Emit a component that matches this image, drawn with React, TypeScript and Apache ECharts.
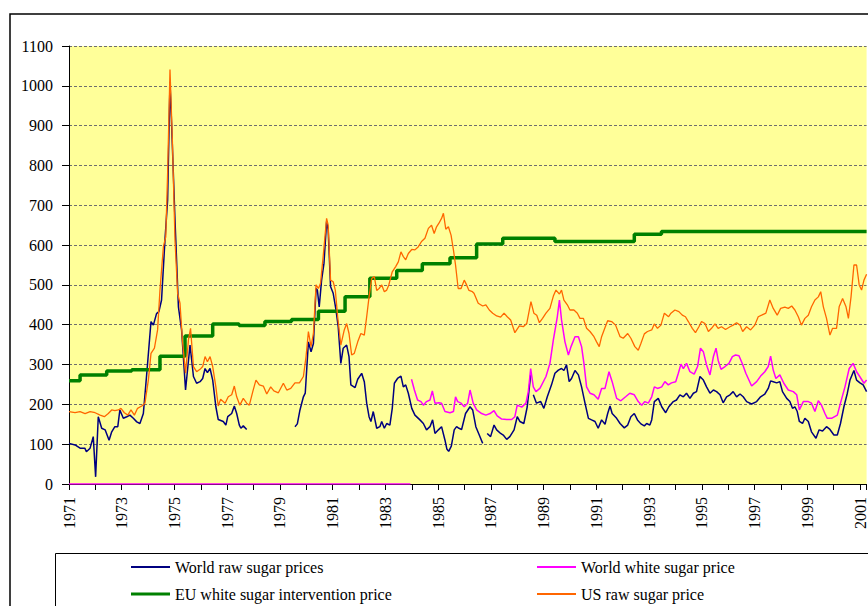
import { useEffect, useRef } from 'react';
import * as echarts from 'echarts';

type Pt = [number, number | null];

const FONT = "'Liberation Serif', 'Times New Roman', serif";

const X_MIN = 1971;
const X_MAX = 2001.25;
const Y_MAX = 1100;
const Y_STEP = 100;

const worldRaw: Pt[] = [
  [1971.0, 102], [1971.23, 98], [1971.42, 90], [1971.6, 90], [1971.66, 81], [1971.8, 90], [1971.92, 119], [1972.01, 18],
  [1972.11, 169], [1972.24, 140], [1972.37, 136], [1972.52, 110], [1972.62, 131], [1972.74, 144], [1972.85, 144], [1972.93, 186],
  [1973.06, 165], [1973.19, 169], [1973.31, 173], [1973.44, 165], [1973.57, 156], [1973.69, 152], [1973.82, 177], [1973.95, 278],
  [1974.11, 408], [1974.2, 399], [1974.32, 428], [1974.41, 433], [1974.51, 462], [1974.64, 613], [1974.74, 713], [1974.83, 1010],
  [1974.89, 906], [1975.02, 663], [1975.15, 445], [1975.27, 387], [1975.42, 236], [1975.59, 349], [1975.72, 270], [1975.84, 253],
  [1975.97, 257], [1976.07, 265], [1976.16, 290], [1976.25, 280], [1976.35, 290], [1976.45, 261], [1976.57, 194], [1976.66, 162],
  [1976.85, 157], [1976.95, 148], [1977.02, 169], [1977.17, 177], [1977.27, 196], [1977.36, 177], [1977.46, 148], [1977.52, 140],
  [1977.61, 146], [1977.74, 137], [1977.8, null],
  [1979.57, 144], [1979.66, 151], [1979.76, 186], [1979.89, 219], [1979.96, 228], [1980.08, 357], [1980.18, 332], [1980.27, 353],
  [1980.37, 491], [1980.42, 487], [1980.49, 445], [1980.58, 512], [1980.67, 554], [1980.77, 659], [1980.83, 638], [1980.92, 496],
  [1981.02, 479], [1981.12, 440], [1981.21, 395], [1981.31, 303], [1981.4, 341], [1981.53, 349], [1981.62, 320], [1981.69, 249],
  [1981.85, 242], [1981.95, 263], [1982.1, 278], [1982.2, 257], [1982.29, 203], [1982.38, 169], [1982.45, 157], [1982.54, 182],
  [1982.67, 140], [1982.79, 144], [1982.86, 157], [1982.96, 140], [1983.05, 152], [1983.17, 148], [1983.26, 190], [1983.34, 253],
  [1983.46, 265], [1983.59, 271], [1983.68, 244], [1983.77, 249], [1983.87, 228], [1984.0, 190], [1984.12, 173], [1984.31, 161],
  [1984.44, 152], [1984.56, 136], [1984.69, 144], [1984.79, 161], [1984.88, 127], [1985.01, 136], [1985.13, 144], [1985.26, 110],
  [1985.33, 88], [1985.4, 82], [1985.5, 95], [1985.61, 136], [1985.7, 144], [1985.79, 140], [1985.89, 137], [1986.04, 177],
  [1986.21, 194], [1986.31, 186], [1986.43, 144], [1986.56, 123], [1986.69, 102], [1986.75, null],
  [1986.86, 127], [1986.99, 119], [1987.12, 148], [1987.22, 136], [1987.37, 127], [1987.47, 123], [1987.6, 112], [1987.72, 119],
  [1987.88, 136], [1988.0, 169], [1988.1, 157], [1988.25, 152], [1988.38, 194], [1988.51, 274], [1988.56, null],
  [1988.61, 224], [1988.73, 203], [1988.89, 207], [1989.01, 190], [1989.14, 219], [1989.3, 249], [1989.43, 278], [1989.56, 286],
  [1989.68, 290], [1989.77, 285], [1989.87, 299], [1989.97, 257], [1990.06, 265], [1990.19, 285], [1990.32, 274], [1990.44, 244],
  [1990.57, 203], [1990.7, 165], [1990.82, 161], [1990.95, 157], [1991.07, 140], [1991.2, 161], [1991.33, 150], [1991.43, 177],
  [1991.52, 196], [1991.6, 177], [1991.77, 165], [1991.9, 152], [1992.06, 141], [1992.19, 148], [1992.31, 169], [1992.44, 177],
  [1992.56, 161], [1992.69, 151], [1992.82, 146], [1992.91, 152], [1993.03, 148], [1993.1, 161], [1993.2, 207], [1993.35, 215],
  [1993.48, 194], [1993.63, 179], [1993.75, 194], [1993.92, 207], [1994.04, 211], [1994.17, 224], [1994.3, 219], [1994.42, 228],
  [1994.55, 215], [1994.68, 228], [1994.8, 232], [1994.93, 270], [1995.06, 261], [1995.18, 244], [1995.31, 228], [1995.44, 236],
  [1995.56, 232], [1995.69, 224], [1995.81, 204], [1995.94, 219], [1996.07, 224], [1996.19, 232], [1996.32, 219], [1996.45, 226],
  [1996.57, 219], [1996.7, 207], [1996.89, 201], [1997.08, 207], [1997.23, 219], [1997.39, 226], [1997.52, 240], [1997.61, 259],
  [1997.71, 257], [1997.84, 254], [1997.96, 257], [1998.06, 232], [1998.22, 215], [1998.34, 207], [1998.44, 190], [1998.53, 194],
  [1998.62, 182], [1998.7, 157], [1998.82, 152], [1998.91, 165], [1999.04, 157], [1999.16, 131], [1999.33, 115], [1999.45, 136],
  [1999.58, 133], [1999.73, 144], [1999.86, 137], [2000.01, 123], [2000.14, 123], [2000.26, 152], [2000.39, 194], [2000.52, 228],
  [2000.62, 261], [2000.77, 285], [2000.87, 261], [2001.0, 254], [2001.12, 249], [2001.25, 232],
];

const worldWhite: Pt[] = [
  [1971.0, 0], [1983.95, 0], [1983.97, null],
  [1983.99, 263], [1984.1, 236], [1984.22, 211], [1984.35, 207], [1984.44, 198], [1984.56, 207], [1984.69, 211], [1984.78, 234],
  [1984.88, 203], [1985.03, 204], [1985.13, 203], [1985.26, 182], [1985.45, 179], [1985.58, 182], [1985.66, 219], [1985.74, 207],
  [1985.87, 203], [1985.99, 194], [1986.12, 203], [1986.21, 236], [1986.33, 203], [1986.46, 186], [1986.65, 177], [1986.81, 173],
  [1986.97, 177], [1987.12, 184], [1987.24, 171], [1987.41, 163], [1987.6, 162], [1987.79, 162], [1987.91, 169], [1988.0, 198],
  [1988.17, 193], [1988.33, 203], [1988.42, 232], [1988.51, 290], [1988.61, 244], [1988.71, 232], [1988.86, 240], [1988.96, 253],
  [1989.09, 270], [1989.24, 303], [1989.37, 362], [1989.52, 420], [1989.6, 462], [1989.68, 412], [1989.81, 357], [1989.94, 324],
  [1990.04, 345], [1990.19, 370], [1990.32, 370], [1990.44, 345], [1990.53, 303], [1990.63, 244], [1990.76, 228], [1990.91, 224],
  [1991.07, 213], [1991.2, 240], [1991.33, 240], [1991.48, 282], [1991.6, 257], [1991.77, 215], [1991.93, 209], [1992.11, 219],
  [1992.27, 228], [1992.44, 224], [1992.59, 207], [1992.72, 198], [1992.84, 207], [1992.97, 203], [1993.1, 219], [1993.2, 244],
  [1993.32, 240], [1993.48, 244], [1993.6, 257], [1993.73, 249], [1993.85, 254], [1994.01, 257], [1994.11, 278], [1994.21, 301],
  [1994.3, 290], [1994.42, 303], [1994.55, 282], [1994.71, 276], [1994.84, 295], [1994.95, 341], [1995.06, 332], [1995.18, 299],
  [1995.31, 274], [1995.44, 320], [1995.54, 341], [1995.62, 311], [1995.73, 288], [1995.88, 295], [1996.03, 303], [1996.16, 320],
  [1996.28, 324], [1996.41, 322], [1996.55, 300], [1996.67, 278], [1996.89, 246], [1997.08, 257], [1997.23, 271], [1997.39, 282],
  [1997.52, 295], [1997.61, 321], [1997.71, 286], [1997.81, 265], [1997.96, 274], [1998.11, 253], [1998.28, 236], [1998.47, 232],
  [1998.6, 224], [1998.7, 186], [1998.85, 207], [1999.04, 207], [1999.16, 203], [1999.29, 182], [1999.42, 209], [1999.54, 198],
  [1999.67, 177], [1999.76, 165], [1999.92, 165], [2000.14, 173], [2000.26, 203], [2000.43, 244], [2000.59, 290], [2000.74, 303],
  [2000.87, 282], [2000.99, 270], [2001.15, 253], [2001.25, 261],
];

// EU intervention price: value in force from each date onwards
const euSteps: Pt[] = [
  [1971.0, 259], [1971.42, 274], [1972.43, 284], [1973.38, 287], [1974.45, 321], [1975.4, 372], [1976.45, 402],
  [1977.45, 398], [1978.43, 408], [1979.44, 413], [1980.46, 434], [1981.47, 470], [1982.41, 517], [1983.43, 536],
  [1984.4, 553], [1985.45, 568], [1986.46, 603], [1987.45, 617], [1989.43, 609], [1992.44, 627], [1993.47, 634],
  [2001.25, 634],
];

const usRaw: Pt[] = [
  [1971.0, 182], [1971.23, 179], [1971.42, 182], [1971.61, 177], [1971.8, 182], [1971.99, 179], [1972.18, 173], [1972.34, 169],
  [1972.49, 177], [1972.62, 186], [1972.74, 184], [1972.87, 186], [1972.97, 190], [1973.1, 179], [1973.23, 173], [1973.35, 186],
  [1973.48, 173], [1973.6, 190], [1973.76, 196], [1973.88, 203], [1974.01, 261], [1974.11, 328], [1974.24, 341], [1974.36, 387],
  [1974.45, 487], [1974.58, 596], [1974.67, 621], [1974.74, 780], [1974.83, 1041], [1974.92, 864], [1975.02, 613], [1975.12, 479],
  [1975.21, 454], [1975.3, 362], [1975.42, 278], [1975.53, 362], [1975.61, 391], [1975.72, 295], [1975.84, 282], [1975.97, 288],
  [1976.07, 295], [1976.16, 320], [1976.25, 307], [1976.35, 320], [1976.45, 295], [1976.57, 244], [1976.66, 196], [1976.75, 213],
  [1976.92, 203], [1977.04, 219], [1977.17, 224], [1977.27, 246], [1977.36, 219], [1977.48, 198], [1977.61, 215], [1977.74, 203],
  [1977.84, 198], [1977.97, 232], [1978.09, 261], [1978.22, 249], [1978.37, 246], [1978.5, 226], [1978.65, 244], [1978.77, 234],
  [1978.94, 229], [1979.13, 253], [1979.26, 236], [1979.41, 240], [1979.57, 254], [1979.74, 254], [1979.89, 270], [1979.99, 320],
  [1980.08, 383], [1980.18, 345], [1980.27, 378], [1980.37, 500], [1980.46, 491], [1980.54, 504], [1980.65, 579], [1980.77, 667],
  [1980.83, 650], [1980.92, 512], [1981.02, 508], [1981.1, 487], [1981.19, 420], [1981.31, 349], [1981.44, 387], [1981.53, 403],
  [1981.62, 378], [1981.72, 324], [1981.82, 328], [1981.95, 357], [1982.07, 378], [1982.2, 374], [1982.29, 420], [1982.38, 470],
  [1982.48, 516], [1982.58, 521], [1982.67, 486], [1982.76, 491], [1982.86, 500], [1982.96, 483], [1983.05, 487], [1983.13, 500],
  [1983.26, 533], [1983.39, 546], [1983.49, 558], [1983.59, 583], [1983.68, 571], [1983.77, 563], [1983.87, 579], [1984.0, 589],
  [1984.12, 588], [1984.25, 596], [1984.37, 609], [1984.5, 617], [1984.63, 642], [1984.75, 650], [1984.85, 629], [1984.94, 646],
  [1985.03, 655], [1985.13, 667], [1985.2, 680], [1985.29, 640], [1985.39, 646], [1985.49, 625], [1985.58, 588], [1985.66, 550],
  [1985.76, 491], [1985.87, 491], [1985.99, 512], [1986.08, 500], [1986.17, 486], [1986.3, 483], [1986.36, 479], [1986.52, 454],
  [1986.69, 447], [1986.81, 450], [1986.94, 437], [1987.07, 429], [1987.22, 422], [1987.37, 419], [1987.5, 429], [1987.62, 420],
  [1987.75, 412], [1987.91, 380], [1988.08, 397], [1988.23, 395], [1988.36, 403], [1988.46, 437], [1988.52, 458], [1988.63, 429],
  [1988.74, 424], [1988.84, 405], [1988.96, 416], [1989.09, 429], [1989.24, 441], [1989.37, 472], [1989.47, 487], [1989.6, 477],
  [1989.68, 487], [1989.77, 462], [1989.9, 450], [1990.0, 437], [1990.15, 437], [1990.28, 429], [1990.38, 416], [1990.51, 416],
  [1990.63, 391], [1990.76, 383], [1990.91, 370], [1991.01, 357], [1991.11, 345], [1991.2, 370], [1991.33, 393], [1991.43, 410],
  [1991.58, 408], [1991.73, 399], [1991.9, 370], [1992.02, 366], [1992.19, 378], [1992.31, 366], [1992.46, 345], [1992.59, 336],
  [1992.69, 353], [1992.82, 377], [1992.94, 383], [1993.1, 387], [1993.2, 402], [1993.32, 391], [1993.45, 399], [1993.58, 429],
  [1993.74, 420], [1993.83, 429], [1993.98, 437], [1994.13, 433], [1994.26, 424], [1994.38, 420], [1994.49, 408], [1994.64, 391],
  [1994.76, 380], [1994.89, 395], [1994.99, 408], [1995.12, 403], [1995.25, 383], [1995.37, 391], [1995.5, 402], [1995.62, 391],
  [1995.75, 395], [1995.9, 388], [1996.07, 395], [1996.19, 399], [1996.32, 405], [1996.45, 399], [1996.55, 383], [1996.7, 395],
  [1996.85, 387], [1997.01, 399], [1997.14, 420], [1997.27, 424], [1997.43, 429], [1997.58, 462], [1997.71, 441], [1997.86, 424],
  [1997.99, 441], [1998.15, 444], [1998.28, 441], [1998.41, 447], [1998.53, 437], [1998.66, 420], [1998.78, 399], [1998.91, 416],
  [1999.04, 424], [1999.16, 445], [1999.29, 462], [1999.42, 470], [1999.51, 483], [1999.61, 445], [1999.73, 416], [1999.86, 374],
  [1999.96, 391], [2000.11, 391], [2000.21, 445], [2000.34, 466], [2000.47, 445], [2000.56, 416], [2000.66, 470], [2000.77, 550],
  [2000.87, 550], [2000.97, 500], [2001.06, 487], [2001.15, 512], [2001.25, 527],
];

const SERIES_NAMES = [
  'World raw sugar prices',
  'World white sugar price',
  'EU white sugar intervention price',
  'US raw sugar price',
];

const toData = (pts: Pt[]) => pts.map(([x, y]) => [x, y === null ? '-' : y]);

export default function App() {
  const ref = useRef<HTMLDivElement>(null);

  useEffect(() => {
    if (!ref.current) return;
    const chart = echarts.init(ref.current, undefined, { renderer: 'svg' });

    const legendBase = {
      orient: 'horizontal',
      padding: 0,
      itemWidth: 39,
      itemHeight: 2,
      icon: 'rect',
      selectedMode: false,
      textStyle: { fontFamily: FONT, fontSize: 16, color: '#000' },
    };

    chart.setOption({
      animation: false,
      backgroundColor: '#ffffff',
      textStyle: { fontFamily: FONT },
      grid: {
        left: 69,
        top: 46,
        right: 1,
        bottom: 122,
        show: true,
        backgroundColor: '#FFFF99',
        borderWidth: 0,
      },
      xAxis: {
        type: 'value',
        min: X_MIN,
        max: X_MAX,
        interval: 1,
        axisLine: { show: true, onZero: false, lineStyle: { color: '#000', width: 1 } },
        axisTick: { show: true, length: 6, lineStyle: { color: '#000' } },
        axisLabel: {
          rotate: 90,
          margin: 13,
          fontFamily: FONT,
          fontSize: 16,
          color: '#000',
          formatter: (v: number) =>
            Number.isInteger(v) && (v - X_MIN) % 2 === 0 ? String(v) : '',
        },
        splitLine: { show: false },
      },
      yAxis: {
        type: 'value',
        min: 0,
        max: Y_MAX,
        interval: Y_STEP,
        axisLine: { show: true, lineStyle: { color: '#000', width: 1 } },
        axisTick: { show: true, length: 7, lineStyle: { color: '#000' } },
        axisLabel: {
          margin: 16,
          fontFamily: FONT,
          fontSize: 16,
          color: '#000',
          formatter: (v: number) => String(v),
        },
        splitLine: { show: true, lineStyle: { color: '#6e6e6e', width: 1, type: [3, 2] } },
      },
      legend: [
        { ...legendBase, left: 131, top: 559, data: [SERIES_NAMES[0]] },
        { ...legendBase, left: 537, top: 559, data: [SERIES_NAMES[1]] },
        { ...legendBase, left: 131, top: 586, itemHeight: 3, data: [SERIES_NAMES[2]] },
        { ...legendBase, left: 537, top: 586, data: [SERIES_NAMES[3]] },
      ],
      graphic: [
        {
          type: 'rect',
          shape: { x: 10, y: 14, width: 880, height: 620 },
          style: { fill: 'none', stroke: '#000', lineWidth: 1.5 },
          silent: true,
        },
        {
          type: 'rect',
          shape: { x: 55.5, y: 553.5, width: 840, height: 80 },
          style: { fill: 'none', stroke: '#000', lineWidth: 1 },
          silent: true,
        },
      ],
      series: [
        {
          name: SERIES_NAMES[0],
          type: 'line',
          data: toData(worldRaw),
          showSymbol: false,
          symbol: 'none',
          connectNulls: false,
          lineStyle: { color: '#000080', width: 1.5 },
          itemStyle: { color: '#000080' },
        },
        {
          name: SERIES_NAMES[1],
          type: 'line',
          data: toData(worldWhite),
          showSymbol: false,
          symbol: 'none',
          connectNulls: false,
          lineStyle: { color: '#FF00FF', width: 1.5 },
          itemStyle: { color: '#FF00FF' },
        },
        {
          name: SERIES_NAMES[2],
          type: 'line',
          step: 'end',
          data: toData(euSteps),
          showSymbol: false,
          symbol: 'none',
          lineStyle: { color: '#008000', width: 3.5 },
          itemStyle: { color: '#008000' },
        },
        {
          name: SERIES_NAMES[3],
          type: 'line',
          data: toData(usRaw),
          showSymbol: false,
          symbol: 'none',
          lineStyle: { color: '#FF6600', width: 1.3 },
          itemStyle: { color: '#FF6600' },
        },
      ],
    });

    return () => chart.dispose();
  }, []);

  return (
    <div
      ref={ref}
      style={{ position: 'fixed', left: 0, top: 0, width: 868, height: 606 }}
    />
  );
}
